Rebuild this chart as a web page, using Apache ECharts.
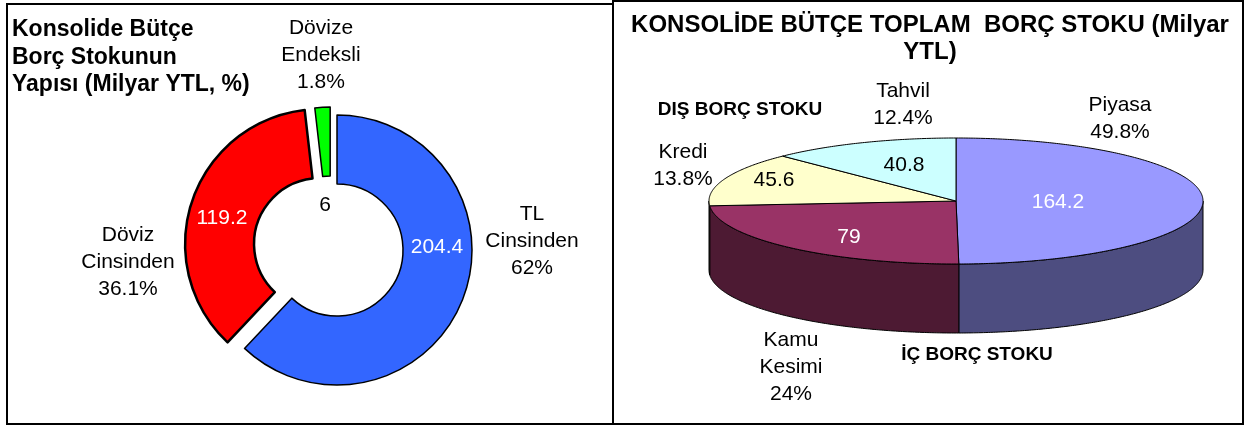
<!DOCTYPE html>
<html>
<head>
<meta charset="utf-8">
<script src="https://cdn.jsdelivr.net/npm/echarts@6/dist/echarts.min.js"></script>
<style>
  html, body { margin: 0; padding: 0; background: #fff; }
  #chart { width: 1247px; height: 427px; }
</style>
</head>
<body>
<div id="chart"></div>
<script>
// sol grafik: borç stokunun yapısı (donut)
const yapiNames = ['TL\nCinsinden', 'Döviz\nCinsinden', 'Dövize\nEndeksli'];
const yapiValues = [204.4, 119.2, 6];
const yapiPct = ['62%', '36.1%', '1.8%'];

// sağ grafik: toplam borç stoku (3d pasta)
const stokNames = ['Piyasa', 'Kamu\nKesimi', 'Kredi', 'Tahvil'];
const stokValues = [164.2, 79, 45.6, 40.8];
const stokPct = ['49.8%', '24%', '13.8%', '12.4%'];

const FONT = 'Liberation Sans';
const yapiColors = ['#3366FF', '#FF0000', '#00FF00'];
const yapiBorder = [1.5, 2.5, 1.5];
const yapiExplode = [7, 11, 5.5];
const yapiValueColor = ['#fff', '#fff', '#000'];
const stokTop = ['#9999FF', '#993366', '#FFFFCC', '#CCFFFF'];
const stokSide = ['#4D4D80', '#4D1A33', '#808066', '#668080'];
const stokValueColor = ['#fff', '#fff', '#000', '#000'];

// etiket konumları (piksel)
const yapiValuePos = [[437, 247], [222, 218], [325, 205]];
const yapiNamePos = [[532, 241], [128, 262], [321, 55]];
const stokValuePos = [[1058, 202], [849, 237], [774, 180], [904, 165]];
const stokNamePos = [[1120, 119], [791, 367], [683, 166], [903, 105]];

const hidden = { color: 'rgba(0,0,0,0)', borderWidth: 0 };

// idx: görünen dilim (-1 = hiçbiri, sadece etiket)
function donut(idx, label, labelColors) {
  return {
    type: 'pie',
    center: [330.5, 247.5],
    radius: [66, 135],
    startAngle: 90,
    clockwise: true,
    selectedMode: 'single',
    selectedOffset: idx >= 0 ? yapiExplode[idx] : 0,
    silent: true,
    emphasis: { disabled: true },
    avoidLabelOverlap: false,
    labelLine: { show: false },
    label: label,
    labelLayout: label.layout,
    data: yapiNames.map(function (n, i) {
      const item = {
        name: n,
        value: yapiValues[i],
        selected: i === idx,
        itemStyle: i === idx
          ? { color: yapiColors[i], borderColor: '#000', borderWidth: yapiBorder[i] }
          : hidden
      };
      if (labelColors) item.label = { color: labelColors[i] };
      return item;
    })
  };
}

function posLayout(list) {
  return function (p) {
    const pos = list[p.dataIndex];
    return { x: pos[0], y: pos[1], align: 'center', verticalAlign: 'middle' };
  };
}

// 3d pasta geometrisi
const pie3d = { cx: 956, cy: 201, rx: 247, ry: 63, depth: 69 };
const stokTotal = stokValues.reduce(function (a, b) { return a + b; }, 0);

function sliceAngles(i) {
  let s = 0;
  for (let k = 0; k < i; k++) s += stokValues[k];
  return [s / stokTotal * Math.PI * 2, (s + stokValues[i]) / stokTotal * Math.PI * 2];
}
function ellPt(a, dy) {
  return [pie3d.cx + pie3d.rx * Math.sin(a), pie3d.cy - pie3d.ry * Math.cos(a) + dy];
}
function arcPts(a0, a1, dy) {
  const n = Math.max(2, Math.ceil((a1 - a0) / 0.01));
  const pts = [];
  for (let j = 0; j <= n; j++) pts.push(ellPt(a0 + (a1 - a0) * j / n, dy));
  return pts;
}

// yan yüzler (sadece önde kalan kısım)
function renderSide(params, api) {
  const a = sliceAngles(params.dataIndex);
  const s0 = Math.max(a[0], Math.PI / 2), s1 = Math.min(a[1], Math.PI * 1.5);
  if (s1 <= s0) return { type: 'group', children: [] };
  const pts = arcPts(s0, s1, 0).concat(arcPts(s0, s1, pie3d.depth).reverse());
  return {
    type: 'polygon',
    shape: { points: pts },
    style: { fill: stokSide[params.dataIndex], stroke: '#000', lineWidth: 1 }
  };
}

// üst yüz + etiketler
function renderTop(params, api) {
  const i = params.dataIndex;
  const a = sliceAngles(i);
  const pts = [[pie3d.cx, pie3d.cy]].concat(arcPts(a[0], a[1], 0));
  return {
    type: 'group',
    children: [
      {
        type: 'polygon',
        shape: { points: pts },
        style: { fill: stokTop[i], stroke: '#000', lineWidth: 1 }
      },
      {
        type: 'text',
        x: stokValuePos[i][0], y: stokValuePos[i][1],
        style: {
          text: String(api.value(0)), fill: stokValueColor[i],
          font: '21px "' + FONT + '"', align: 'center', verticalAlign: 'middle'
        }
      },
      {
        type: 'text',
        x: stokNamePos[i][0], y: stokNamePos[i][1],
        style: {
          text: stokNames[i] + '\n' + stokPct[i], fill: '#000',
          font: '21px "' + FONT + '"', lineHeight: 27,
          align: 'center', verticalAlign: 'middle'
        }
      }
    ]
  };
}

const chart = echarts.init(document.getElementById('chart'));
chart.setOption({
  animation: false,
  backgroundColor: '#fff',
  textStyle: { fontFamily: FONT },
  graphic: [
    { type: 'rect', shape: { x: 7, y: 4, width: 606, height: 420 },
      style: { fill: null, stroke: '#000', lineWidth: 2 } },
    { type: 'rect', shape: { x: 613, y: 1, width: 630, height: 423 },
      style: { fill: null, stroke: '#000', lineWidth: 2 } },
    { type: 'text', x: 12, y: 16,
      style: { text: 'Konsolide Bütçe\nBorç Stokunun\nYapısı (Milyar YTL, %)',
        font: 'bold 23px "' + FONT + '"', lineHeight: 27.5, fill: '#000' } },
    { type: 'text', x: 930, y: 12,
      style: { text: 'KONSOLİDE BÜTÇE TOPLAM  BORÇ STOKU (Milyar\nYTL)',
        font: 'bold 24px "' + FONT + '"', lineHeight: 27, fill: '#000', align: 'center' } },
    { type: 'text', x: 740, y: 110,
      style: { text: 'DIŞ BORÇ STOKU', font: 'bold 19px "' + FONT + '"', fill: '#000',
        align: 'center', verticalAlign: 'middle' } },
    { type: 'text', x: 977, y: 355,
      style: { text: 'İÇ BORÇ STOKU', font: 'bold 19px "' + FONT + '"', fill: '#000',
        align: 'center', verticalAlign: 'middle' } }
  ],
  series: [
    donut(0, { show: false }),
    donut(1, { show: false }),
    donut(2, { show: false }),
    // değer etiketleri
    donut(-1, {
      show: true, position: 'inside', formatter: '{c}', fontSize: 21, fontFamily: FONT,
      layout: posLayout(yapiValuePos)
    }, yapiValueColor),
    // isim etiketleri
    donut(-1, {
      show: true, position: 'inside', fontSize: 21, lineHeight: 27,
      color: '#000', fontFamily: FONT,
      formatter: function (p) { return yapiNames[p.dataIndex] + '\n' + yapiPct[p.dataIndex]; },
      layout: posLayout(yapiNamePos)
    }),
    {
      type: 'custom', coordinateSystem: 'none', silent: true, z: 1,
      renderItem: renderSide, data: stokValues
    },
    {
      type: 'custom', coordinateSystem: 'none', silent: true, z: 2,
      renderItem: renderTop, data: stokValues
    }
  ]
});
</script>
</body>
</html>
